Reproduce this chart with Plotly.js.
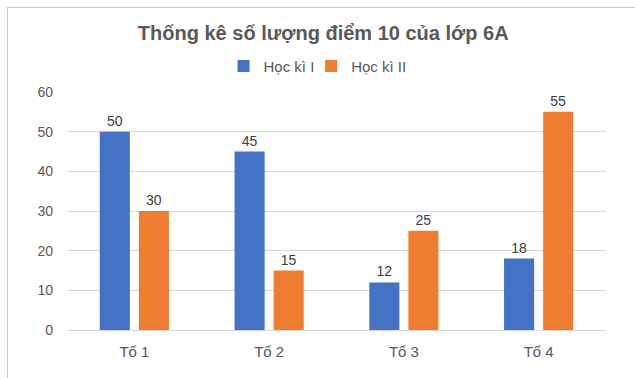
<!DOCTYPE html>
<html><head><meta charset="utf-8">
<script src="https://cdn.plot.ly/plotly-3.0.1.min.js"></script>
<style>
html,body{margin:0;padding:0;background:#fff;overflow:hidden;}
#wrap{position:relative;width:635px;height:378px;}
#chart{position:absolute;left:0;top:0;width:635px;height:378px;}
#frame{position:absolute;left:7px;top:7px;width:700px;height:400px;border:1px solid #c8c8c8;pointer-events:none;}
</style></head>
<body><div id="wrap"><div id="chart"></div><div id="frame"></div></div>
<script>
const categories = ["Tổ 1", "Tổ 2", "Tổ 3", "Tổ 4"];
const seriesNames = ["Học kì I", "Học kì II"];
const hocKi1 = [50, 45, 12, 18];
const hocKi2 = [30, 15, 25, 55];
const yTicks = [0, 10, 20, 30, 40, 50, 60];
const titleText = "Thống kê số lượng điểm 10 của lớp 6A";

const font = "Liberation Sans, Arial, sans-serif";
const traces = [
  {type:"bar", name:seriesNames[0], x:categories, y:hocKi1, marker:{color:"#4472C4"},
   text:hocKi1.map(String), textposition:"outside", cliponaxis:false, legend:"legend",
   textfont:{size:14, color:"#404040"}, hoverinfo:"none"},
  {type:"bar", name:seriesNames[1], x:categories, y:hocKi2, marker:{color:"#ED7D31"},
   text:hocKi2.map(String), textposition:"outside", cliponaxis:false, legend:"legend2",
   textfont:{size:14, color:"#404040"}, hoverinfo:"none"}
];
const legendBase = {orientation:"h", xref:"container", xanchor:"left",
  y:0.825, yref:"container", yanchor:"middle", itemwidth:30, bgcolor:"rgba(0,0,0,0)",
  font:{family:font, size:15, color:"#595959"}};
const layout = {
  width:635, height:378,
  margin:{l:67, r:29, t:92, b:48},
  paper_bgcolor:"rgba(0,0,0,0)", plot_bgcolor:"rgba(0,0,0,0)",
  font:{family:font, size:14, color:"#595959"},
  title:{text:"<b>"+titleText+"</b>", x:0.509, xref:"container", xanchor:"center",
         y:0.913, yref:"container", yanchor:"middle",
         font:{family:font, size:20, color:"#595959"}},
  showlegend:true,
  legend:Object.assign({}, legendBase, {x:0.352}),
  legend2:Object.assign({}, legendBase, {x:0.49}),
  barmode:"group", bargap:0.42, bargroupgap:0.23,
  xaxis:{showgrid:false, zeroline:false, showline:false, ticks:"",
         tickfont:{size:15, color:"#595959"}, ticklabelstandoff:11, fixedrange:true},
  yaxis:{range:[0,60], tickvals:yTicks, showgrid:true, gridcolor:"#d9d9d9", gridwidth:1,
         zeroline:true, zerolinecolor:"#d9d9d9", showline:false, ticks:"",
         tickfont:{size:14, color:"#595959"}, ticklabelstandoff:13, fixedrange:true}
};
Plotly.newPlot("chart", traces, layout, {displayModeBar:false, staticPlot:true});
</script></body></html>
